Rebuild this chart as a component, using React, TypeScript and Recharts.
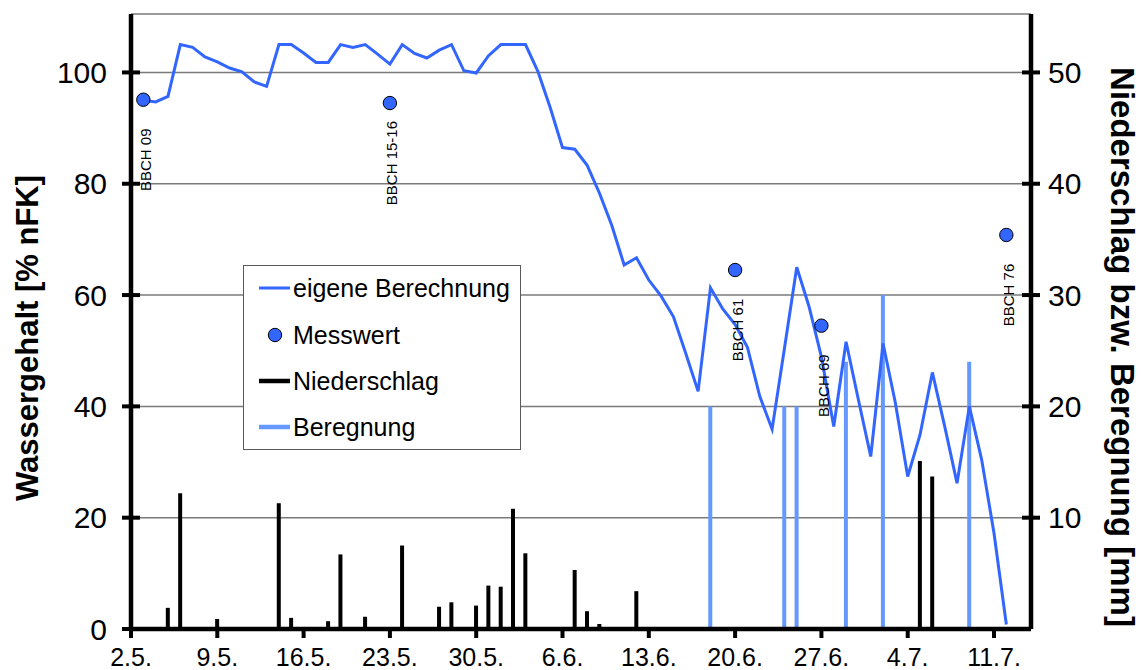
import React from 'react';
import {
  ComposedChart,
  Line,
  Bar,
  Scatter,
  XAxis,
  YAxis,
  CartesianGrid,
  Legend,
  Label,
} from 'recharts';

// Days are counted from 2.5. (day 0)
const xTickDays = [0, 7, 14, 21, 28, 35, 42, 49, 56, 63, 70];
const xTickLabels = ['2.5.', '9.5.', '16.5.', '23.5.', '30.5.', '6.6.', '13.6.', '20.6.', '27.6.', '4.7.', '11.7.'];

const leftTicks = [0, 20, 40, 60, 80, 100];
const rightTicks = [10, 20, 30, 40, 50];

// eigene Berechnung: daily values [% nFK], starting on day 1 (3.5.)
const calcStartDay = 1;
const calcValues = [
  95.0, 94.7, 95.7, 105.0, 104.5, 102.8, 101.9, 100.8, 100.1, 98.3,
  97.5, 105.0, 105.0, 103.5, 101.8, 101.8, 105.0, 104.5, 105.0, 103.3,
  101.5, 105.0, 103.4, 102.6, 104.0, 105.0, 100.3, 99.9, 103.0, 105.0,
  105.0, 105.0, 100.2, 93.7, 86.5, 86.2, 83.3, 78.3, 72.5, 65.4,
  66.7, 62.7, 59.8, 56.1, 49.5, 42.7, 61.3, 57.5, 54.7, 50.6,
  41.8, 35.9, 50.4, 65.0, 57.9, 48.9, 36.4, 51.6, 41.2, 31.0,
  51.3, 40.6, 27.4, 34.9, 46.1, 36.4, 26.2, 40.0, 30.4, 17.2, 0.8,
];

// Niederschlag [mm]
const rainDays = [2, 3, 4, 7, 12, 13, 16, 17, 19, 22, 24, 25, 26, 28, 29, 30, 31, 32, 36, 37, 38, 41, 64, 65];
const rainValues = [0.1, 1.9, 12.2, 0.9, 11.3, 1.0, 0.7, 6.7, 1.1, 7.5, 0.15, 2.0, 2.4, 2.1, 3.9, 3.8, 10.8, 6.8, 5.3, 1.6, 0.45, 3.4, 15.1, 13.7];

// Beregnung [mm]
const irrDays = [47, 53, 54, 58, 61, 68];
const irrValues = [20, 20, 20, 24, 30, 24];

// Messwerte [% nFK] with growth stage
const messDays = [1, 21, 49, 56, 71];
const messValues = [95.1, 94.5, 64.5, 54.5, 70.8];
const messLabels = ['BBCH 09', 'BBCH 15-16', 'BBCH 61', 'BBCH 69', 'BBCH 76'];

const FONT = '"Liberation Sans", Arial, Helvetica, sans-serif';
const LINE_BLUE = '#3366ff';
const IRR_BLUE = '#6699ff';

const tableData = calcValues.map((v, i) => {
  const day = calcStartDay + i;
  const r = rainDays.indexOf(day);
  const b = irrDays.indexOf(day);
  return {
    day,
    calc: v,
    rain: r >= 0 ? rainValues[r] : 0,
    irr: b >= 0 ? irrValues[b] : 0,
  };
});

const messData = messDays.map((d, i) => ({ day: d, mess: messValues[i], label: messLabels[i] }));

function LeftTick(props: any) {
  const { x, y, payload } = props;
  return (
    <g>
      <line x1={x - 9} x2={x + 9} y1={y} y2={y} stroke="#000" strokeWidth={4} />
      <text x={x - 24} y={y} textAnchor="end" dominantBaseline="central" fontSize={30} fontFamily={FONT} fill="#000">
        {payload.value}
      </text>
    </g>
  );
}

function RightTick(props: any) {
  const { x, y, payload } = props;
  return (
    <g>
      <line x1={x - 9} x2={x + 9} y1={y} y2={y} stroke="#000" strokeWidth={4} />
      <text x={x + 17} y={y} textAnchor="start" dominantBaseline="central" fontSize={30} fontFamily={FONT} fill="#000">
        {payload.value}
      </text>
    </g>
  );
}

function BottomTick(props: any) {
  const { x, y, payload } = props;
  const idx = xTickDays.indexOf(payload.value);
  return (
    <g>
      <line x1={x} x2={x} y1={y} y2={y + 9} stroke="#000" strokeWidth={4} />
      <text x={x} y={y + 37} textAnchor="middle" fontSize={25} fontFamily={FONT} fill="#000">
        {idx >= 0 ? xTickLabels[idx] : ''}
      </text>
    </g>
  );
}

function MessPoint(props: any) {
  const { cx, cy, payload } = props;
  if (cx == null || cy == null) return null;
  const tx = cx + 2;
  const ty = cy + 60;
  return (
    <g>
      <circle cx={cx} cy={cy} r={6.7} fill={LINE_BLUE} stroke="#000" strokeWidth={1} />
      <text
        x={tx}
        y={ty}
        transform={`rotate(-90 ${tx} ${ty})`}
        textAnchor="middle"
        dominantBaseline="central"
        fontSize={15}
        fontFamily={FONT}
        fill="#000"
      >
        {payload.label}
      </text>
    </g>
  );
}

function LegendBox() {
  const rows = [
    { name: 'eigene Berechnung', kind: 'line', color: LINE_BLUE, w: 3, y: 22 },
    { name: 'Messwert', kind: 'dot', color: LINE_BLUE, w: 0, y: 69 },
    { name: 'Niederschlag', kind: 'line', color: '#000', w: 4.5, y: 115 },
    { name: 'Beregnung', kind: 'line', color: IRR_BLUE, w: 4.5, y: 161 },
  ];
  return (
    <div
      style={{
        width: 278,
        height: 185,
        border: '1.5px solid #5a5a5a',
        background: '#fff',
        boxSizing: 'border-box',
      }}
    >
      <svg width={275} height={182} style={{ display: 'block' }}>
        {rows.map((r) => (
          <g key={r.name}>
            {r.kind === 'line' ? (
              <line x1={15} x2={46} y1={r.y} y2={r.y} stroke={r.color} strokeWidth={r.w} />
            ) : (
              <circle cx={31} cy={r.y} r={6.7} fill={r.color} stroke="#000" strokeWidth={1} />
            )}
            <text x={49} y={r.y} dominantBaseline="central" fontSize={25} fontFamily={FONT} fill="#000">
              {r.name}
            </text>
          </g>
        ))}
      </svg>
    </div>
  );
}

export default function App() {
  return (
    <div style={{ position: 'absolute', left: 0, top: 0, width: 1141, height: 670, background: '#fff' }}>
      <ComposedChart
        width={1141}
        height={670}
        data={tableData}
        margin={{ top: 14, right: 0, bottom: 0, left: 0 }}
      >
        <CartesianGrid yAxisId="left" vertical={false} stroke="#7a7a7a" strokeWidth={1.5} />
        <XAxis
          dataKey="day"
          type="number"
          domain={[0, 73]}
          ticks={xTickDays}
          interval={0}
          height={41}
          tickSize={0}
          tickMargin={0}
          tickLine={false}
          axisLine={{ stroke: '#000', strokeWidth: 4.5 }}
          tick={<BottomTick />}
        />
        <YAxis
          yAxisId="left"
          orientation="left"
          width={131}
          domain={[0, 110.5]}
          ticks={leftTicks}
          interval={0}
          tickSize={0}
          tickMargin={0}
          tickLine={false}
          axisLine={{ stroke: '#000', strokeWidth: 4.5 }}
          tick={<LeftTick />}
        >
          <Label
            content={() => (
              <text
                x={27}
                y={338}
                transform="rotate(-90 27 338)"
                textAnchor="middle"
                dominantBaseline="central"
                fontSize={31}
                fontWeight="bold"
                fontFamily={FONT}
                fill="#000"
              >
                Wassergehalt [% nFK]
              </text>
            )}
          />
        </YAxis>
        <YAxis
          yAxisId="right"
          orientation="right"
          width={110}
          domain={[0, 55.25]}
          ticks={rightTicks}
          interval={0}
          tickSize={0}
          tickMargin={0}
          tickLine={false}
          axisLine={{ stroke: '#000', strokeWidth: 4.5 }}
          tick={<RightTick />}
        >
          <Label
            content={() => (
              <text
                x={1122}
                y={347}
                transform="rotate(90 1122 347)"
                textAnchor="middle"
                dominantBaseline="central"
                fontSize={33}
                fontWeight="bold"
                fontFamily={FONT}
                fill="#000"
              >
                Niederschlag bzw. Beregnung [mm]
              </text>
            )}
          />
        </YAxis>
        <Bar yAxisId="right" dataKey="rain" name="Niederschlag" stackId="p" fill="#000" barSize={4} isAnimationActive={false} />
        <Bar yAxisId="right" dataKey="irr" name="Beregnung" stackId="p" fill={IRR_BLUE} barSize={4} isAnimationActive={false} />
        <Line
          yAxisId="left"
          dataKey="calc"
          name="eigene Berechnung"
          stroke={LINE_BLUE}
          strokeWidth={3}
          dot={false}
          activeDot={false}
          isAnimationActive={false}
        />
        <Scatter
          yAxisId="left"
          data={messData}
          dataKey="mess"
          name="Messwert"
          shape={<MessPoint />}
          isAnimationActive={false}
        />
        <Legend
          layout="vertical"
          align="center"
          verticalAlign="middle"
          wrapperStyle={{ position: 'absolute', left: 243, top: 265, width: 278, height: 185 }}
          content={() => <LegendBox />}
        />
      </ComposedChart>
    </div>
  );
}
